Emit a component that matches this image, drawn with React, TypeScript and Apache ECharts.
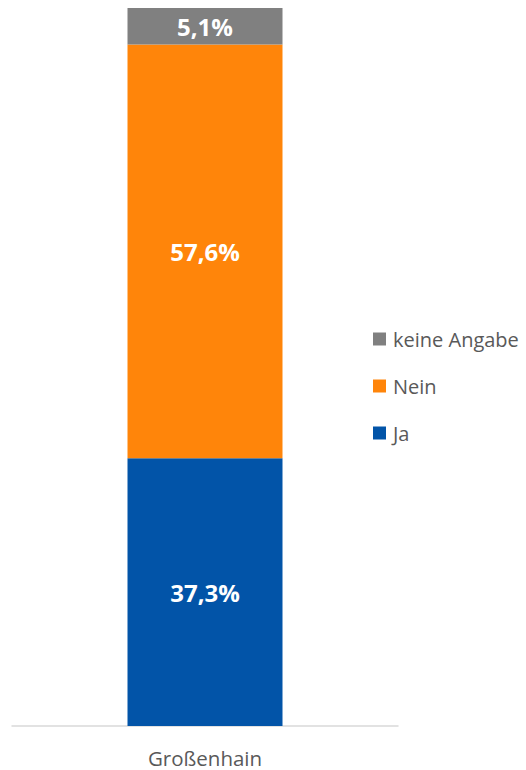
import React, { useEffect, useRef } from "react";
import * as echarts from "echarts";

const categories = ["Großenhain"];
const seriesNames = ["Ja", "Nein", "keine Angabe"];
const jaValues = [37.3];
const neinValues = [57.6];
const keineValues = [5.1];
const colors = ["#0254A8", "#FF850A", "#808080"];
const legendOrder = ["keine Angabe", "Nein", "Ja"];

const FONT = "'Open Sans', sans-serif";

export default function App() {
  const ref = useRef<HTMLDivElement>(null);
  useEffect(() => {
    if (!ref.current) return;
    const chart = echarts.init(ref.current, undefined, { renderer: "svg" });
    const values = [jaValues, neinValues, keineValues];
    chart.setOption({
      animation: false,
      textStyle: { fontFamily: FONT },
      grid: { left: 12, right: 128, top: 8, bottom: 44, containLabel: false },
      legend: {
        orient: "vertical",
        left: 373,
        top: 329,
        padding: 0,
        itemWidth: 13,
        itemHeight: 13,
        itemGap: 27,
        icon: "rect",
        data: legendOrder,
        textStyle: { fontFamily: FONT, fontSize: 20, color: "#595959", lineHeight: 20, padding: [0, 0, 0, 2] },
      },
      xAxis: {
        type: "category",
        data: categories,
        axisLine: { show: true, lineStyle: { color: "#D9D9D9", width: 1.5 } },
        axisTick: { show: false },
        axisLabel: { fontFamily: FONT, fontSize: 20.5, color: "#595959", margin: 21 },
      },
      yAxis: {
        type: "value",
        min: 0,
        max: 100,
        show: false,
        splitLine: { show: false },
      },
      series: seriesNames.map((name, i) => ({
        name,
        type: "bar",
        stack: "total",
        barWidth: 155,
        data: values[i],
        itemStyle: { color: colors[i] },
        label: {
          show: true,
          position: "inside",
          formatter: (p: any) => p.value.toFixed(1).replace(".", ",") + "%",
          color: "#FFFFFF",
          fontFamily: FONT,
          fontWeight: "bold",
          fontSize: 24,
        },
      })),
    });
    return () => chart.dispose();
  }, []);
  return <div ref={ref} style={{ width: 526, height: 770, position: "absolute", left: 0, top: 0 }} />;
}
